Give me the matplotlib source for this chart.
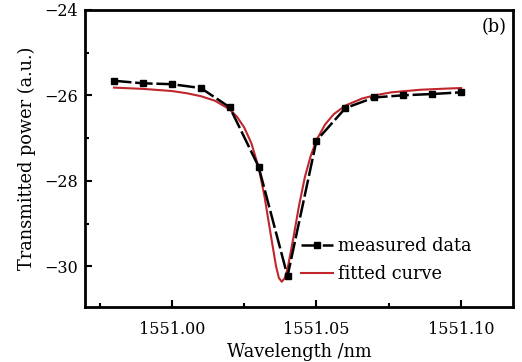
import matplotlib.pyplot as plt
from matplotlib.ticker import MultipleLocator

# measured transmission points
wl_meas = [1550.98, 1550.99, 1551.00, 1551.01, 1551.02, 1551.03, 1551.04,
           1551.05, 1551.06, 1551.07, 1551.08, 1551.09, 1551.10]
p_meas = [-25.66, -25.72, -25.74, -25.83, -26.28, -27.67, -30.23,
          -27.06, -26.30, -26.05, -26.00, -25.97, -25.93]

# fitted curve
wl_fit = [1550.980, 1550.990, 1551.000, 1551.005, 1551.010, 1551.015, 1551.020,
          1551.0225, 1551.025, 1551.0275, 1551.030, 1551.032, 1551.034, 1551.036,
          1551.037, 1551.038, 1551.039, 1551.040, 1551.042, 1551.044, 1551.046,
          1551.048, 1551.050, 1551.053, 1551.056, 1551.060, 1551.066, 1551.071,
          1551.076, 1551.086, 1551.096, 1551.100]
p_fit = [-25.82, -25.85, -25.90, -25.95, -26.02, -26.13, -26.33,
         -26.50, -26.75, -27.12, -27.69, -28.35, -29.18, -29.99,
         -30.27, -30.36, -30.28, -30.06, -29.34, -28.57, -27.91,
         -27.42, -27.05, -26.68, -26.44, -26.24, -26.07, -25.99,
         -25.93, -25.87, -25.84, -25.83]

plt.rcParams['font.family'] = 'DejaVu Serif'
plt.rcParams['font.size'] = 11.5

fig = plt.figure(figsize=(5.22, 3.62), dpi=100)
ax = fig.add_axes([0.163, 0.152, 0.82, 0.821])

ax.plot(wl_meas, p_meas, color='black', lw=1.8, dashes=(7, 1.5), marker='s', ms=5,
        label='measured data', zorder=3)
ax.plot(wl_fit, p_fit, color='#c0262c', lw=1.5, label='fitted curve', zorder=2)

ax.set_xlim(1550.970, 1551.118)
ax.set_ylim(-30.95, -24)
ax.xaxis.set_major_locator(MultipleLocator(0.05))
ax.xaxis.set_minor_locator(MultipleLocator(0.025))
ax.yaxis.set_major_locator(MultipleLocator(2))
ax.yaxis.set_minor_locator(MultipleLocator(1))
ax.xaxis.set_major_formatter(lambda v, pos: f'{v:.2f}')
ax.yaxis.set_major_formatter(lambda v, pos: f'\u2212{abs(v):.0f}')
ax.tick_params(which='both', direction='in', top=False, right=False, width=1.5)
ax.tick_params(which='major', length=5)
ax.tick_params(which='minor', length=3)
ax.tick_params(axis='x', which='major', pad=10)
ax.tick_params(axis='y', which='major', pad=5)
for s in ax.spines.values():
    s.set_linewidth(2)

ax.set_xlabel('Wavelength /nm', fontsize=12.8, labelpad=4)
ax.set_ylabel('Transmitted power (a.u.)', fontsize=12.8, labelpad=6)
ax.text(0.985, 0.973, '(b)', transform=ax.transAxes, ha='right', va='top', fontsize=12.8)

ax.legend(loc='lower right', bbox_to_anchor=(0.92, 0.057), frameon=False, fontsize=12.8,
          handlelength=1.8, handletextpad=0.3, labelspacing=0.55, borderaxespad=0)

fig.savefig('out.png', dpi=100)
